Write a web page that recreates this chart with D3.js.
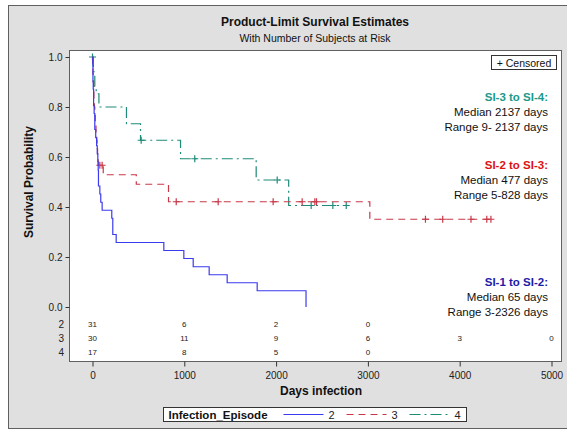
<!DOCTYPE html>
<html>
<head>
<meta charset="utf-8">
<script src="https://cdn.jsdelivr.net/npm/d3@7"></script>
<style>
  body { margin: 0; background: #fff; }
  svg { display: block; font-family: "Liberation Sans", Arial, sans-serif; }
</style>
</head>
<body>
<svg id="chart" width="567" height="431"></svg>
<script>
// Kaplan-Meier steps (time in days, survival after the event)
const groups = ["2", "3", "4"];

const times2 = [0, 3, 5, 8, 12, 18, 25, 35, 45, 52, 58, 62, 65, 80, 90, 105, 210, 221, 258, 777, 995, 1097, 1271, 1467, 1794, 2326];
const surv2 = [1, 0.968, 0.903, 0.871, 0.806, 0.774, 0.710, 0.677, 0.645, 0.613, 0.581, 0.548, 0.484, 0.452, 0.419, 0.387, 0.355, 0.290, 0.258, 0.226, 0.194, 0.161, 0.129, 0.097, 0.065, 0];
const cens2 = [];
const end2 = 2326;

const times3 = [0, 2, 5, 8, 12, 15, 20, 25, 30, 38, 45, 50, 55, 62, 117, 477, 828, 3021];
const surv3 = [1, 0.967, 0.933, 0.900, 0.867, 0.833, 0.800, 0.767, 0.733, 0.700, 0.667, 0.633, 0.600, 0.567, 0.529, 0.491, 0.421, 0.351];
const cens3 = [80, 105, 912, 1369, 1968, 2284, 2422, 2440, 3627, 3815, 4123, 4295, 4340];
const end3 = 4340;

const times4 = [0, 9, 25, 40, 70, 370, 523, 959, 1783, 2137];
const surv4 = [1, 0.941, 0.882, 0.853, 0.800, 0.733, 0.667, 0.593, 0.508, 0.406];
const cens4 = [0, 530, 1114, 2012, 2382, 2618, 2764];
const end4 = 2764;

// number of subjects at risk at each x tick
const riskTimes = [0, 1000, 2000, 3000, 4000, 5000];
const atRisk2 = [31, 6, 2, 0];
const atRisk3 = [30, 11, 9, 6, 3, 0];
const atRisk4 = [17, 8, 5, 0];

const xTicks = [0, 1000, 2000, 3000, 4000, 5000];
const yTicks = [0, 0.2, 0.4, 0.6, 0.8, 1.0];

const notes = [
  { head: "SI-3 to SI-4:", median: "Median 2137 days", range: "Range 9- 2137 days", y: 97 },
  { head: "SI-2 to SI-3:", median: "Median 477 days", range: "Range 5-828 days", y: 165 },
  { head: "SI-1 to SI-2:", median: "Median 65 days", range: "Range 3-2326 days", y: 282 }
];

/**
 * Styles
 */
let lineColors = { "2": "#3b3bf0", "3": "#c83848", "4": "#1e8a78" };
let noteColors = ["#1a9a8a", "#dd1111", "#1c1ca8"];
let dashes = { "2": null, "3": "7,5", "4": "11,4,2,4" };

let plot = { left: 69, right: 561, top: 50, bottom: 361 };

const svg = d3.select("#chart");

// outer gray frame
svg.append("rect")
  .attr("x", 8.5).attr("y", 5.5)
  .attr("width", 560).attr("height", 423)
  .attr("fill", "#e0e0e0")
  .attr("stroke", "#606060");

// plot area
svg.append("rect")
  .attr("x", plot.left + 0.5).attr("y", plot.top + 0.5)
  .attr("width", plot.right - plot.left).attr("height", plot.bottom - plot.top)
  .attr("fill", "#fff")
  .attr("stroke", "#606060");

// Scales
let xScale = d3.scaleLinear().domain([0, 5000]).range([92.5, 551.5]);
let yScale = d3.scaleLinear().domain([0, 1]).range([307, 57]);

// Titles
svg.append("text")
  .attr("x", 315).attr("y", 26)
  .attr("text-anchor", "middle")
  .style("font-size", "12px").style("font-weight", "bold")
  .attr("fill", "#111")
  .text("Product-Limit Survival Estimates");

svg.append("text")
  .attr("x", 315).attr("y", 42)
  .attr("text-anchor", "middle")
  .style("font-size", "10.5px")
  .attr("fill", "#111")
  .text("With Number of Subjects at Risk");

// Y axis
let yAxis = d3.axisLeft(yScale)
  .tickValues(yTicks)
  .tickSize(4)
  .tickPadding(3)
  .tickFormat(d3.format(".1f"));

let yG = svg.append("g")
  .attr("transform", "translate(" + (plot.left + 0.5) + ",0)")
  .call(yAxis);
yG.select(".domain").remove();
yG.selectAll("line").attr("stroke", "#333");
yG.selectAll("text").style("font-size", "10px").attr("fill", "#222")
  .style("font-family", "\"Liberation Sans\", Arial, sans-serif");

svg.append("text")
  .attr("transform", "translate(33,182) rotate(-90)")
  .attr("text-anchor", "middle")
  .style("font-size", "12px").style("font-weight", "bold")
  .attr("fill", "#111")
  .text("Survival Probability");

// X axis
let xAxis = d3.axisBottom(xScale)
  .tickValues(xTicks)
  .tickSize(5)
  .tickPadding(5)
  .tickFormat(d3.format("d"));

let xG = svg.append("g")
  .attr("transform", "translate(0," + (plot.bottom + 0.5) + ")")
  .call(xAxis);
xG.select(".domain").remove();
xG.selectAll("line").attr("stroke", "#333");
xG.selectAll("text").style("font-size", "10px").attr("fill", "#222")
  .style("font-family", "\"Liberation Sans\", Arial, sans-serif");

svg.append("text")
  .attr("x", 321).attr("y", 395)
  .attr("text-anchor", "middle")
  .style("font-size", "12px").style("font-weight", "bold")
  .attr("fill", "#111")
  .text("Days infection");

// Curves
let series = [
  { key: "2", times: times2, surv: surv2, cens: cens2, end: end2 },
  { key: "3", times: times3, surv: surv3, cens: cens3, end: end3 },
  { key: "4", times: times4, surv: surv4, cens: cens4, end: end4 }
];

let line = d3.line()
  .x(function(d) { return xScale(d[0]); })
  .y(function(d) { return yScale(d[1]); })
  .curve(d3.curveStepAfter);

function survAt(s, t) {
  let i = d3.bisectRight(s.times, t) - 1;
  return s.surv[Math.max(0, i)];
}

let curves = svg.append("g").attr("class", "curves");

series.slice().reverse().forEach(function(s) {
  let pts = s.times.map(function(t, i) { return [t, s.surv[i]]; });
  if (s.end > s.times[s.times.length - 1]) {
    pts.push([s.end, s.surv[s.surv.length - 1]]);
  }
  curves.append("path")
    .datum(pts)
    .attr("d", line)
    .attr("fill", "none")
    .attr("stroke", lineColors[s.key])
    .attr("stroke-width", 1.2)
    .attr("stroke-dasharray", dashes[s.key]);

  // censored "+" marks
  curves.selectAll(".cens" + s.key)
    .data(s.cens)
    .enter().append("path")
    .attr("class", "cens" + s.key)
    .attr("transform", function(t) {
      return "translate(" + xScale(t) + "," + yScale(survAt(s, t)) + ")";
    })
    .attr("d", "M-3.5,0H3.5M0,-3.5V3.5")
    .attr("stroke", lineColors[s.key])
    .attr("stroke-width", 1.2);
});

// Censored legend box
let cBox = svg.append("g").attr("transform", "translate(491.5,55.5)");
cBox.append("rect")
  .attr("width", 65).attr("height", 14)
  .attr("fill", "#fff").attr("stroke", "#333");
cBox.append("text")
  .attr("x", 32.5).attr("y", 11)
  .attr("text-anchor", "middle")
  .style("font-size", "10.5px")
  .attr("fill", "#111")
  .text("+ Censored");

// Annotations
let noteG = svg.append("g")
  .attr("text-anchor", "end")
  .style("font-size", "11.5px");

notes.forEach(function(n, i) {
  noteG.append("text")
    .attr("x", 548).attr("y", n.y + 4)
    .style("font-weight", "bold")
    .attr("fill", noteColors[i])
    .text(n.head);
  noteG.append("text")
    .attr("x", 548).attr("y", n.y + 19)
    .attr("fill", "#111")
    .text(n.median);
  noteG.append("text")
    .attr("x", 548).attr("y", n.y + 34)
    .attr("fill", "#111")
    .text(n.range);
});

// At-risk table inside the plot
let risk = [atRisk2, atRisk3, atRisk4];
let riskY = d3.scalePoint().domain(groups).range([324, 352]);

groups.forEach(function(g, gi) {
  svg.append("text")
    .attr("x", 64).attr("y", riskY(g) + 4)
    .attr("text-anchor", "end")
    .style("font-size", "10px")
    .attr("fill", "#222")
    .text(g);

  svg.selectAll(".risk" + g)
    .data(risk[gi])
    .enter().append("text")
    .attr("class", "risk" + g)
    .attr("x", function(d, i) { return xScale(riskTimes[i]); })
    .attr("y", riskY(g) + 3)
    .attr("text-anchor", "middle")
    .style("font-size", "8px")
    .attr("fill", "#222")
    .text(function(d) { return d; });
});

// Legend
let legend = svg.append("g").attr("transform", "translate(163.5,407.5)");
legend.append("rect")
  .attr("width", 303).attr("height", 14)
  .attr("fill", "#fff").attr("stroke", "#333");
legend.append("text")
  .attr("x", 5).attr("y", 11)
  .style("font-size", "11.5px").style("font-weight", "bold")
  .attr("fill", "#111")
  .text("Infection_Episode");

let legendX = d3.scalePoint().domain(groups).range([120, 246]);
groups.forEach(function(g) {
  let lx = legendX(g);
  legend.append("line")
    .attr("x1", lx).attr("x2", lx + 40)
    .attr("y1", 7).attr("y2", 7)
    .attr("stroke", lineColors[g])
    .attr("stroke-width", 1.2)
    .attr("stroke-dasharray", dashes[g]);
  legend.append("text")
    .attr("x", lx + 45).attr("y", 11)
    .style("font-size", "11px")
    .attr("fill", "#222")
    .text(g);
});
</script>
</body>
</html>
